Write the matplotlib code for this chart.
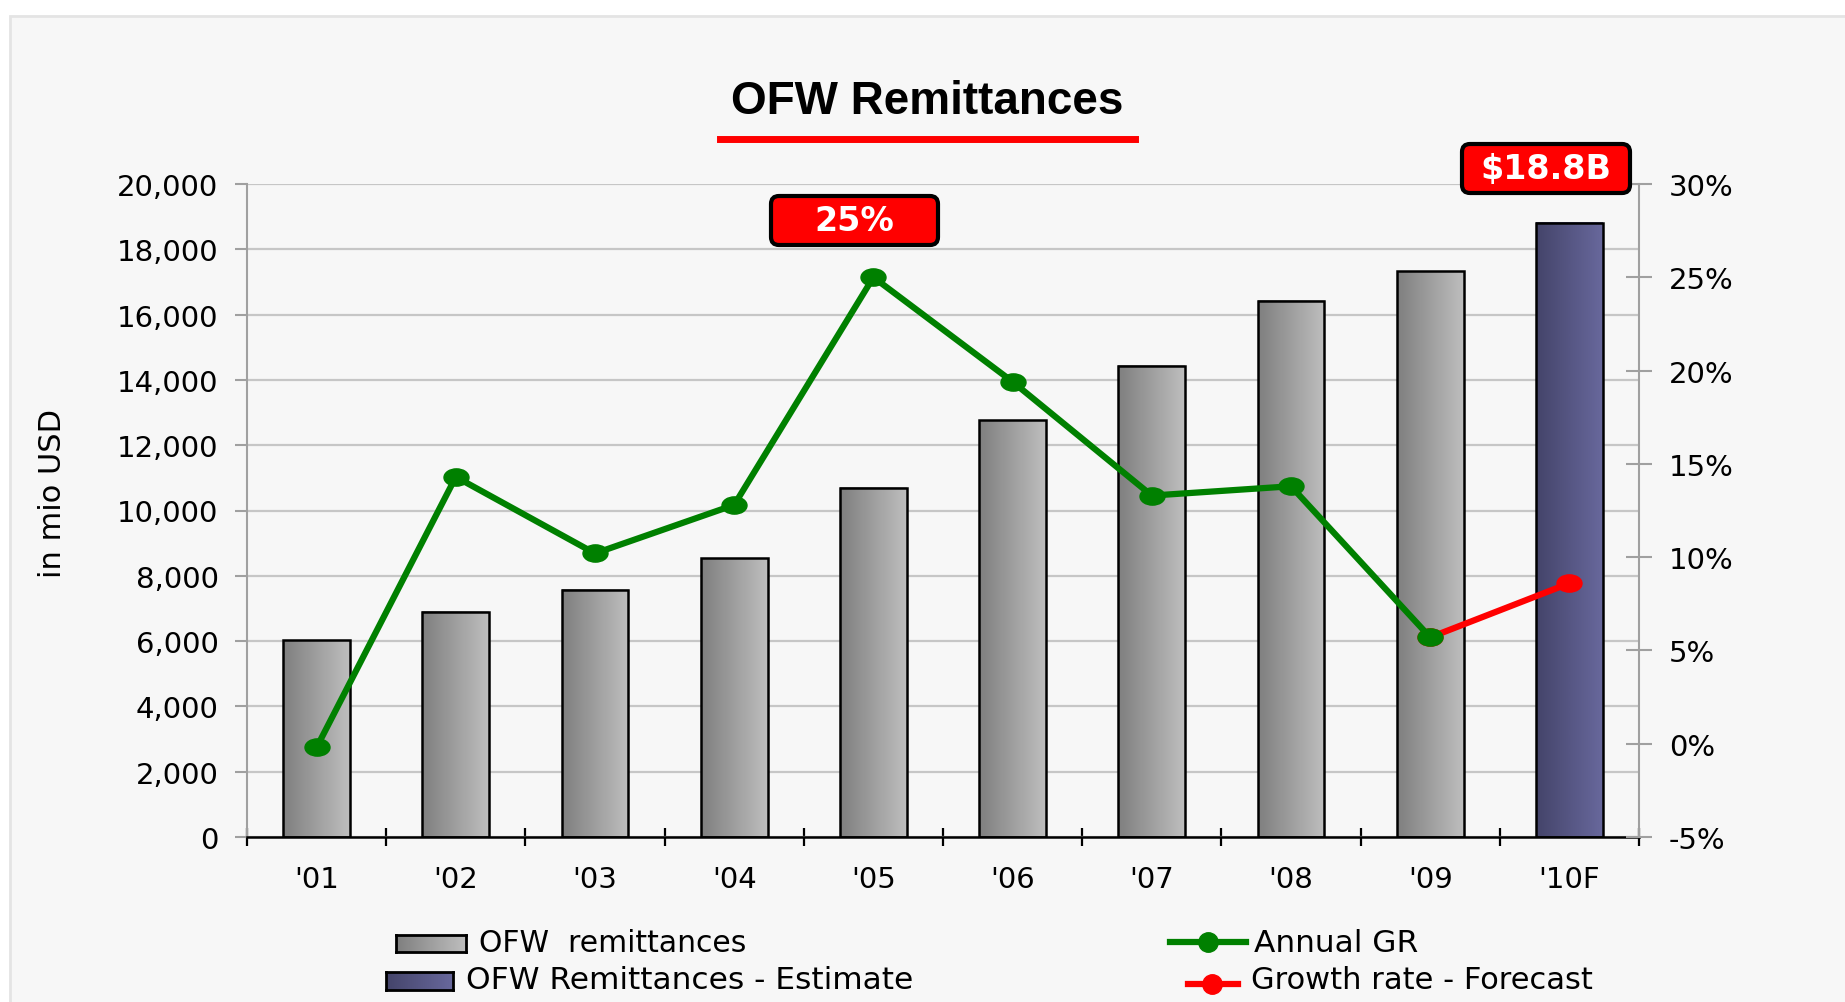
import numpy as np
import matplotlib.pyplot as plt
from matplotlib.colors import LinearSegmentedColormap
from matplotlib.patches import Rectangle, FancyBboxPatch
from matplotlib.lines import Line2D
from matplotlib.path import Path
from matplotlib.transforms import IdentityTransform, Affine2D

plt.rcParams['font.family'] = ['DejaVu Sans']

##### data
years = ["'01", "'02", "'03", "'04", "'05", "'06", "'07", "'08", "'09", "'10F"]
remit = [6030, 6900, 7580, 8540, 10700, 12760, 14430, 16430, 17330, 18820]  # mio USD
growth = [-0.2, 14.3, 10.2, 12.8, 25.0, 19.4, 13.3, 13.8, 5.7]              # annual GR, '01-'09
forecast_x = ["'09", "'10F"]
forecast = [5.7, 8.6]
left_ticks = np.arange(0, 20001, 2000)
right_ticks = np.arange(-5, 31, 5)

W, H = 1845, 1003
fig = plt.figure(figsize=(W / 100, H / 100), dpi=100)
fig.patch.set_facecolor('white')
fig.add_artist(Rectangle((10 / W, -0.01), 1.0, 1 - 17 / H + 0.01, transform=fig.transFigure,
                         facecolor='#f7f7f7', edgecolor='#e4e4e4', lw=2, zorder=-10))

ax = fig.add_axes([247 / W, 1 - 838 / H, (1639 - 247) / W, (838 - 185) / H])
ax.set_facecolor('none')

gray = LinearSegmentedColormap.from_list('g', ['#7f7f7f', '#bebebe'])
navy = LinearSegmentedColormap.from_list('n', ['#44446a', '#68689c'])
grad = np.linspace(0, 1, 200).reshape(1, -1)

x = np.arange(len(years))
w = 0.48
for i, v in enumerate(remit):
    cm = navy if i == len(remit) - 1 else gray
    ax.imshow(grad, cmap=cm, extent=(x[i] - w / 2, x[i] + w / 2, 0, v), aspect='auto', zorder=2)
    ax.bar(x[i], v, width=w, facecolor='none', edgecolor='black', lw=1.8, zorder=3)

ax.set_xlim(-0.5, len(years) - 0.5)
ax.set_ylim(0, 20000)
ax.set_yticks(left_ticks)
ax.set_yticklabels([f'{t:,}' for t in left_ticks], fontsize=21)
ax.grid(axis='y', color='#c6c6c6', lw=1.6, zorder=0)
ax.set_axisbelow(True)
ax.tick_params(axis='y', colors='#a0a0a0', length=8.5, width=1.5, pad=12, labelcolor='black')

ax.set_xticks(x)
ax.set_xticklabels(years, fontsize=21)
ax.set_xticks(np.arange(-0.5, len(years)), minor=True)
ax.tick_params(axis='x', which='major', length=0, pad=20)
ax.tick_params(axis='x', which='minor', direction='inout', length=13.5, width=1.6, color='black')

ax.spines['top'].set_visible(False)
ax.spines['right'].set_visible(False)
ax.spines['left'].set_color('#a0a0a0')
ax.spines['left'].set_linewidth(1.5)
ax.spines['bottom'].set_color('black')
ax.spines['bottom'].set_linewidth(1.8)

ax2 = ax.twinx()
ax2.set_ylim(-5, 30)
ax2.set_yticks(right_ticks)
ax2.set_yticklabels([f'{t}%' for t in right_ticks], fontsize=21)
ax2.tick_params(axis='y', direction='inout', length=19, width=1.5, colors='#a0a0a0',
                labelcolor='black', pad=12)
for s in ['top', 'left', 'bottom']:
    ax2.spines[s].set_visible(False)
ax2.spines['right'].set_color('#a0a0a0')
ax2.spines['right'].set_linewidth(1.5)

# slightly flattened dots like the original
oval = Path.unit_circle().transformed(Affine2D().scale(1.45, 1.0))
fx = [years.index(y) for y in forecast_x]
ax2.plot(fx, forecast, color='red', lw=4.5, marker=oval, ms=18, zorder=4)
ax2.plot(x[:len(growth)], growth, color='#008000', lw=4.5, marker=oval, ms=18, zorder=5)

# title with red underline
fig.text(927 / W, 1 - 102 / H, 'OFW Remittances', ha='center', va='center',
         fontsize=33, weight='bold', family='Liberation Sans')
fig.add_artist(Line2D([720 / W, 1135 / W], [1 - 139.5 / H] * 2, color='red', lw=5,
                      transform=fig.transFigure))

# red callout boxes (pixel coords, y from top)
def callout(x0, y0, x1, y1, txt):
    box = FancyBboxPatch((x0, H - y1), x1 - x0, y1 - y0,
                         boxstyle='round,pad=0,rounding_size=8',
                         facecolor='red', edgecolor='black', lw=3, transform=IdentityTransform())
    fig.add_artist(box)
    fig.text((x0 + x1) / 2 / W, 1 - (y0 + y1) / 2 / H, txt, ha='center', va='center',
             color='white', fontsize=24, weight='bold')

callout(771, 197, 938, 246, '25%')
callout(1462, 145, 1630, 194, '$18.8B')

fig.text(53 / W, 1 - 494 / H, 'in mio USD', rotation=90, ha='center', va='center', fontsize=22)

# legend drawn by hand
def swatch(x0, y0, x1, y1, cm):
    sa = fig.add_axes([x0 / W, 1 - y1 / H, (x1 - x0) / W, (y1 - y0) / H])
    sa.imshow(grad, cmap=cm, aspect='auto')
    sa.set_xticks([])
    sa.set_yticks([])
    for s in sa.spines.values():
        s.set_linewidth(2)
        s.set_color('black')

swatch(396, 936, 466, 953, gray)
fig.text(479 / W, 1 - 944 / H, 'OFW  remittances', va='center', fontsize=21.5)
swatch(386, 973, 453, 991, navy)
fig.text(466 / W, 1 - 981 / H, 'OFW Remittances - Estimate', va='center', fontsize=22.5)

fig.add_artist(Line2D([1170 / W, 1208 / W, 1246 / W], [1 - 943 / H] * 3, color='#008000', lw=4.5,
                      marker='o', ms=14, markevery=[1], transform=fig.transFigure))
fig.text(1254 / W, 1 - 944 / H, 'Annual GR', va='center', fontsize=22.5)
fig.add_artist(Line2D([1188 / W, 1212 / W, 1238 / W], [1 - 985 / H] * 3, color='red', lw=4.5,
                      marker='o', ms=14, markevery=[1], transform=fig.transFigure))
fig.text(1251 / W, 1 - 981 / H, 'Growth rate - Forecast', va='center', fontsize=22)

plt.savefig('out.png', dpi=100)
